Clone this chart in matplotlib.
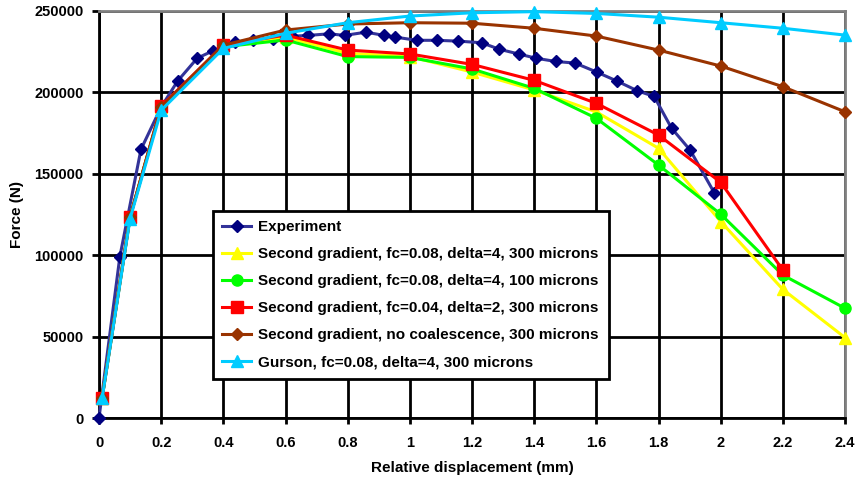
import matplotlib
matplotlib.use("Agg")
import matplotlib.pyplot as plt

plt.rcParams['font.family'] = ['Liberation Sans', 'DejaVu Sans']
plt.rcParams['font.weight'] = 'bold'

# ---- data ----
exp_x = [0, 0.067, 0.135, 0.2, 0.253, 0.316, 0.366, 0.438, 0.497, 0.559, 0.62, 0.673,
         0.741, 0.79, 0.859, 0.917, 0.952, 1.022, 1.086, 1.156, 1.231, 1.288, 1.352,
         1.406, 1.469, 1.532, 1.601, 1.666, 1.732, 1.786, 1.842, 1.902, 1.979]
exp_y = [0, 99000, 165000, 191000, 207000, 221000, 225500, 231000, 232000, 233000,
         234500, 235000, 236000, 235000, 237000, 235000, 234000, 232000, 232000,
         231500, 230500, 226500, 223500, 221000, 219000, 218000, 212500, 207000,
         201000, 197500, 178000, 164500, 138500]

sim_x = [0.01, 0.1, 0.2, 0.4, 0.6, 0.8, 1.0, 1.2, 1.4, 1.6, 1.8, 2.0, 2.2, 2.4]
yellow_y = [12500, 123500, 191000, 228500, 234000, 224000, 222000, 212500, 201500,
            188000, 165700, 120700, 79000, 49400]
green_y = [12500, 123500, 191000, 228000, 232200, 222000, 221500, 214400, 202500,
           184100, 155400, 125200, 87800, 67400]
red_y = [12500, 123500, 191500, 229000, 235200, 226000, 223600, 217200, 207400,
         193300, 173800, 144800, 90900]
brown_y = [12500, 123500, 191000, 229000, 238300, 242000, 242800, 242500, 239400,
           234600, 226000, 216200, 203500, 188100]
cyan_y = [12000, 122500, 189000, 227000, 236300, 242800, 246900, 248900, 249600,
          248500, 246200, 242800, 239400, 235200]

labels = ["Experiment",
          "Second gradient, fc=0.08, delta=4, 300 microns",
          "Second gradient, fc=0.08, delta=4, 100 microns",
          "Second gradient, fc=0.04, delta=2, 300 microns",
          "Second gradient, no coalescence, 300 microns",
          "Gurson, fc=0.08, delta=4, 300 microns"]

x_ticks = [0, 0.2, 0.4, 0.6, 0.8, 1.0, 1.2, 1.4, 1.6, 1.8, 2.0, 2.2, 2.4]
x_tick_labels = ["0", "0.2", "0.4", "0.6", "0.8", "1", "1.2", "1.4", "1.6", "1.8", "2", "2.2", "2.4"]
y_ticks = [0, 50000, 100000, 150000, 200000, 250000]
y_tick_labels = ["0", "50000", "100000", "150000", "200000", "250000"]

# ---- figure ----
fig = plt.figure(figsize=(8.57, 4.82), dpi=100)
ax = fig.add_axes([99/857, 64/482, 746/857, 407/482])

ax.plot(exp_x, exp_y, color='#333399', lw=2.2, marker='D', ms=6,
        mfc='#000080', mec='#000080', label=labels[0], clip_on=False, zorder=3)
ax.plot(sim_x, yellow_y, color='#FFFF00', lw=2.2, marker='^', ms=9,
        mfc='#FFFF00', mec='#FFFF00', label=labels[1], clip_on=False, zorder=3)
ax.plot(sim_x, green_y, color='#00FF00', lw=2.2, marker='o', ms=8,
        mfc='#00FF00', mec='#00FF00', label=labels[2], clip_on=False, zorder=3)
ax.plot(sim_x[:len(red_y)], red_y, color='#FF0000', lw=2.2, marker='s', ms=8,
        mfc='#FF0000', mec='#FF0000', label=labels[3], clip_on=False, zorder=3)
ax.plot(sim_x, brown_y, color='#993300', lw=2.2, marker='D', ms=6,
        mfc='#993300', mec='#993300', label=labels[4], clip_on=False, zorder=3)
ax.plot(sim_x, cyan_y, color='#00CCFF', lw=2.2, marker='^', ms=9,
        mfc='#00CCFF', mec='#00CCFF', label=labels[5], clip_on=False, zorder=3)

ax.set_xlim(0, 2.4)
ax.set_ylim(0, 250000)
ax.set_xticks(x_ticks)
ax.set_xticklabels(x_tick_labels)
ax.set_yticks(y_ticks)
ax.set_yticklabels(y_tick_labels)
ax.tick_params(axis='both', labelsize=10.5, width=2, length=5, direction='out', color='black')
ax.tick_params(axis='x', pad=9, length=4)
ax.tick_params(axis='y', pad=6)
for lab in ax.get_xticklabels() + ax.get_yticklabels():
    lab.set_fontweight('bold')

ax.grid(True, color='black', lw=2, zorder=1)
ax.set_axisbelow(True)
for s in ['left', 'bottom']:
    ax.spines[s].set_color('black')
    ax.spines[s].set_linewidth(2)
for s in ['top', 'right']:
    ax.spines[s].set_color('#808080')
    ax.spines[s].set_linewidth(2)

ax.set_xlabel("Relative displacement (mm)", fontsize=11, fontweight='bold', labelpad=8)
ax.set_ylabel("Force (N)", fontsize=11, fontweight='bold')
ax.yaxis.set_label_coords((24 - 99) / 746, 0.5)

leg = ax.legend(loc='upper left', bbox_to_anchor=((212.5 - 99) / 746, (418 - 210.5) / 407),
                frameon=True, fancybox=False, framealpha=1, edgecolor='black',
                fontsize=11, handlelength=1.9, borderpad=0.65, labelspacing=0.85,
                handletextpad=0.45, borderaxespad=0)
leg.get_frame().set_linewidth(2)
leg.set_zorder(5)
for t in leg.get_texts():
    t.set_fontweight('bold')

fig.savefig("out.png", dpi=100)
